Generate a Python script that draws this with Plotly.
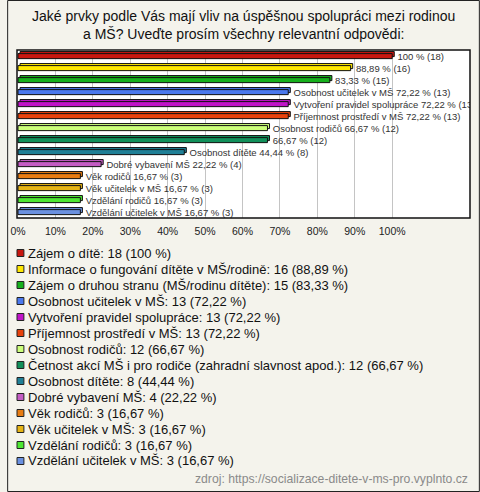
import plotly.graph_objects as go

title_text = "Jaké prvky podle Vás mají vliv na úspěšnou spolupráci mezi rodinou<br>a MŠ? Uveďte prosím všechny relevantní odpovědi:"

categories = [
    "Zájem o dítě",
    "Informace o fungování dítěte v MŠ/rodině",
    "Zájem o druhou stranu (MŠ/rodinu dítěte)",
    "Osobnost učitelek v MŠ",
    "Vytvoření pravidel spolupráce",
    "Příjemnost prostředí v MŠ",
    "Osobnost rodičů",
    "Četnost akcí MŠ i pro rodiče (zahradní slavnost apod.)",
    "Osobnost dítěte",
    "Dobré vybavení MŠ",
    "Věk rodičů",
    "Věk učitelek v MŠ",
    "Vzdělání rodičů",
    "Vzdělání učitelek v MŠ",
]
counts = [18, 16, 15, 13, 13, 13, 12, 12, 8, 4, 3, 3, 3, 3]
percents = [100, 88.89, 83.33, 72.22, 72.22, 72.22, 66.67, 66.67, 44.44, 22.22, 16.67, 16.67, 16.67, 16.67]
percent_labels = ["100", "88,89", "83,33", "72,22", "72,22", "72,22", "66,67", "66,67",
                  "44,44", "22,22", "16,67", "16,67", "16,67", "16,67"]
# whether the bar label shows the category name
show_name = [False, False, False, True, True, True, True, False, True, True, True, True, True, True]
colors = ["#c8170f", "#ffe800", "#16b01c", "#4a78ee", "#c014c8", "#e8420c", "#ccff7a",
          "#11905a", "#1f7f96", "#c45cc4", "#e87c12", "#e6b414", "#4ee632", "#6a90e0"]
tick_vals = [0, 10, 20, 30, 40, 50, 60, 70, 80, 90, 100]
tick_text = ["0%", "10%", "20%", "30%", "40%", "50%", "60%", "70%", "80%", "90%", "100%"]
source_text = "zdroj: https://socializace-ditete-v-ms-pro.vyplnto.cz"

bar_text = []
for name, p, c, s in zip(categories, percent_labels, counts, show_name):
    core = f"{p} % ({c})"
    bar_text.append("\u00a0\u00a0" + (f"{name} {core}" if s else core))

FONT = "Liberation Sans, Arial, sans-serif"
BG = "#f4f3ec"

fig = go.Figure()
# back face (3D depth)
fig.add_trace(go.Bar(
    y=categories, x=percents, orientation="h", base=0.55,
    width=0.42, offset=-0.37,
    marker=dict(color=colors, line=dict(color="#111111", width=1)),
    hoverinfo="skip", showlegend=False,
))
# front face
fig.add_trace(go.Bar(
    y=categories, x=percents, orientation="h",
    width=0.42, offset=-0.2,
    marker=dict(color=colors, line=dict(color="#111111", width=1)),
    text=bar_text, textposition="outside", constraintext="none",
    textfont=dict(family=FONT, size=9.5, color="#333333"),
    cliponaxis=True, showlegend=False,
))

W, H = 480, 492
L, R, T, B = 10, 10, 50, 274
pw, ph = W - L - R, H - T - B

def px_x(px):
    return (px - L) / pw

def px_y(py):
    return (H - B - py) / ph

shapes = []
annotations = []
# outer border
shapes.append(dict(type="rect", xref="paper", yref="paper",
                   x0=px_x(0.5), x1=px_x(W - 0.5), y0=px_y(0.5), y1=px_y(H - 0.5),
                   line=dict(color="#222222", width=1), layer="below"))
# plot border
shapes.append(dict(type="rect", xref="paper", yref="paper", x0=0, x1=1, y0=0, y1=1,
                   line=dict(color="#111111", width=1.5)))

# custom legend
leg_y0, leg_step = 253, 16
for i, (name, c, p, col) in enumerate(zip(categories, counts, percent_labels, colors)):
    cy = leg_y0 + i * leg_step
    shapes.append(dict(type="rect", xref="paper", yref="paper",
                       x0=px_x(10), x1=px_x(17), y0=px_y(cy - 3.5), y1=px_y(cy + 3.5),
                       fillcolor=col, line=dict(color="#222222", width=1)))
    annotations.append(dict(xref="paper", yref="paper", x=px_x(19), y=px_y(cy),
                            xanchor="left", yanchor="middle", showarrow=False,
                            text=f"{name}: {c} ({p} %)",
                            font=dict(family=FONT, size=13, color="#111111")))

annotations.append(dict(xref="paper", yref="paper", x=px_x(470), y=px_y(479),
                        xanchor="right", yanchor="middle", showarrow=False,
                        text=source_text, font=dict(family=FONT, size=12.2, color="#8a8a8a")))
annotations.append(dict(xref="paper", yref="paper", x=px_x(240), y=px_y(25),
                        xanchor="center", yanchor="middle", showarrow=False,
                        text=title_text, font=dict(family=FONT, size=14, color="#111111")))

fig.update_layout(
    width=W, height=H,
    margin=dict(l=L, r=R, t=T, b=B, pad=0),
    paper_bgcolor=BG, plot_bgcolor="#ffffff",
    barmode="overlay",
    shapes=shapes, annotations=annotations,
    xaxis=dict(range=[-0.263, 120.79], tickvals=tick_vals, ticktext=tick_text,
               showgrid=True, gridcolor="#c4c4c4", gridwidth=1, zeroline=False,
               ticks="", ticklabelstandoff=5,
               tickfont=dict(family=FONT, size=10.5, color="#222222"),
               fixedrange=True),
    yaxis=dict(autorange="reversed", showticklabels=False, showgrid=False, ticks="",
               zeroline=False, range=[13.5, -0.5], fixedrange=True),
    showlegend=False,
)

fig.write_html("out.html", config={"displayModeBar": False},
               post_script="document.body.style.margin='0';document.body.style.overflow='hidden';")
